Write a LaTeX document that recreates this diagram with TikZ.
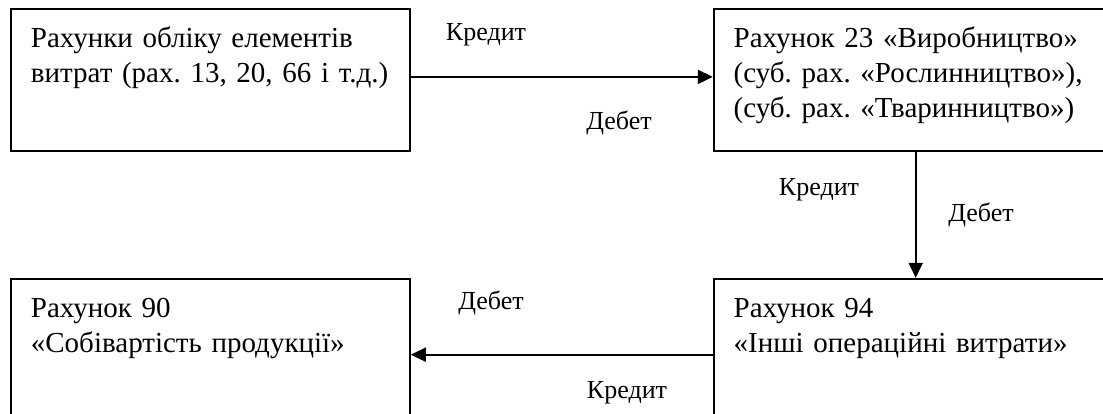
\documentclass[tikz,border=0pt]{standalone}
\usepackage{fontspec}
\setmainfont{Liberation Serif}
\usetikzlibrary{arrows.meta,positioning}
\tikzset{
  acct/.style ={rectangle, draw=black, line width=1.8pt, anchor=north west,
                align=left, text width=359pt, inner xsep=20pt, inner ysep=0pt,
                text height=39pt, text depth=103pt,
                font=\fontsize{29}{35}\selectfont\frenchspacing},
  lbl/.style  ={font=\fontsize{26}{30}\selectfont, inner sep=0pt},
  arr/.style  ={-{Triangle[length=15pt,width=14pt]}, draw=black, line width=2pt},
}

\begin{document}
\begin{tikzpicture}[x=1pt,y=-1pt]
  \useasboundingbox (0,0) rectangle (1103,414);

  \node[acct] (box1) at (10,8)
  {Рахунки обліку елементів\\витрат~(рах.~13,~20,~66~і~т.д.)};

  \node[acct,right=302pt of box1] (box2)
  {Рахунок 23 «Виробництво»\\(суб. рах. «Рослинництво»),\\(суб. рах. «Тваринництво»)};

  \node[acct,below=126pt of box1] (box4)
  {Рахунок 90\\«Собівартість продукції»};

  \node[acct,right=302pt of box4] (box3)
  {Рахунок 94\\«Інші операційні витрати»};

  \draw[arr] ([yshift=3pt]box1.east) -- ([yshift=3pt]box2.west);
  \draw[arr] ([xshift=2.5pt]box2.south) -- ([xshift=2.5pt]box3.north);
  \draw[arr] ([yshift=-5pt]box3.west) -- ([yshift=-5pt]box4.east);

  \node[lbl] (cr1) at (486,35) {Кредит};
  \node[lbl] (db1) at (619,123) {Дебет};
  \node[lbl] (cr2) at (819,190) {Кредит};
  \node[lbl] (db2) at (981,215) {Дебет};
  \node[lbl] (db3) at (491,303) {Дебет};
  \node[lbl] (cr3) at (627,393) {Кредит};
\end{tikzpicture}
\end{document}
